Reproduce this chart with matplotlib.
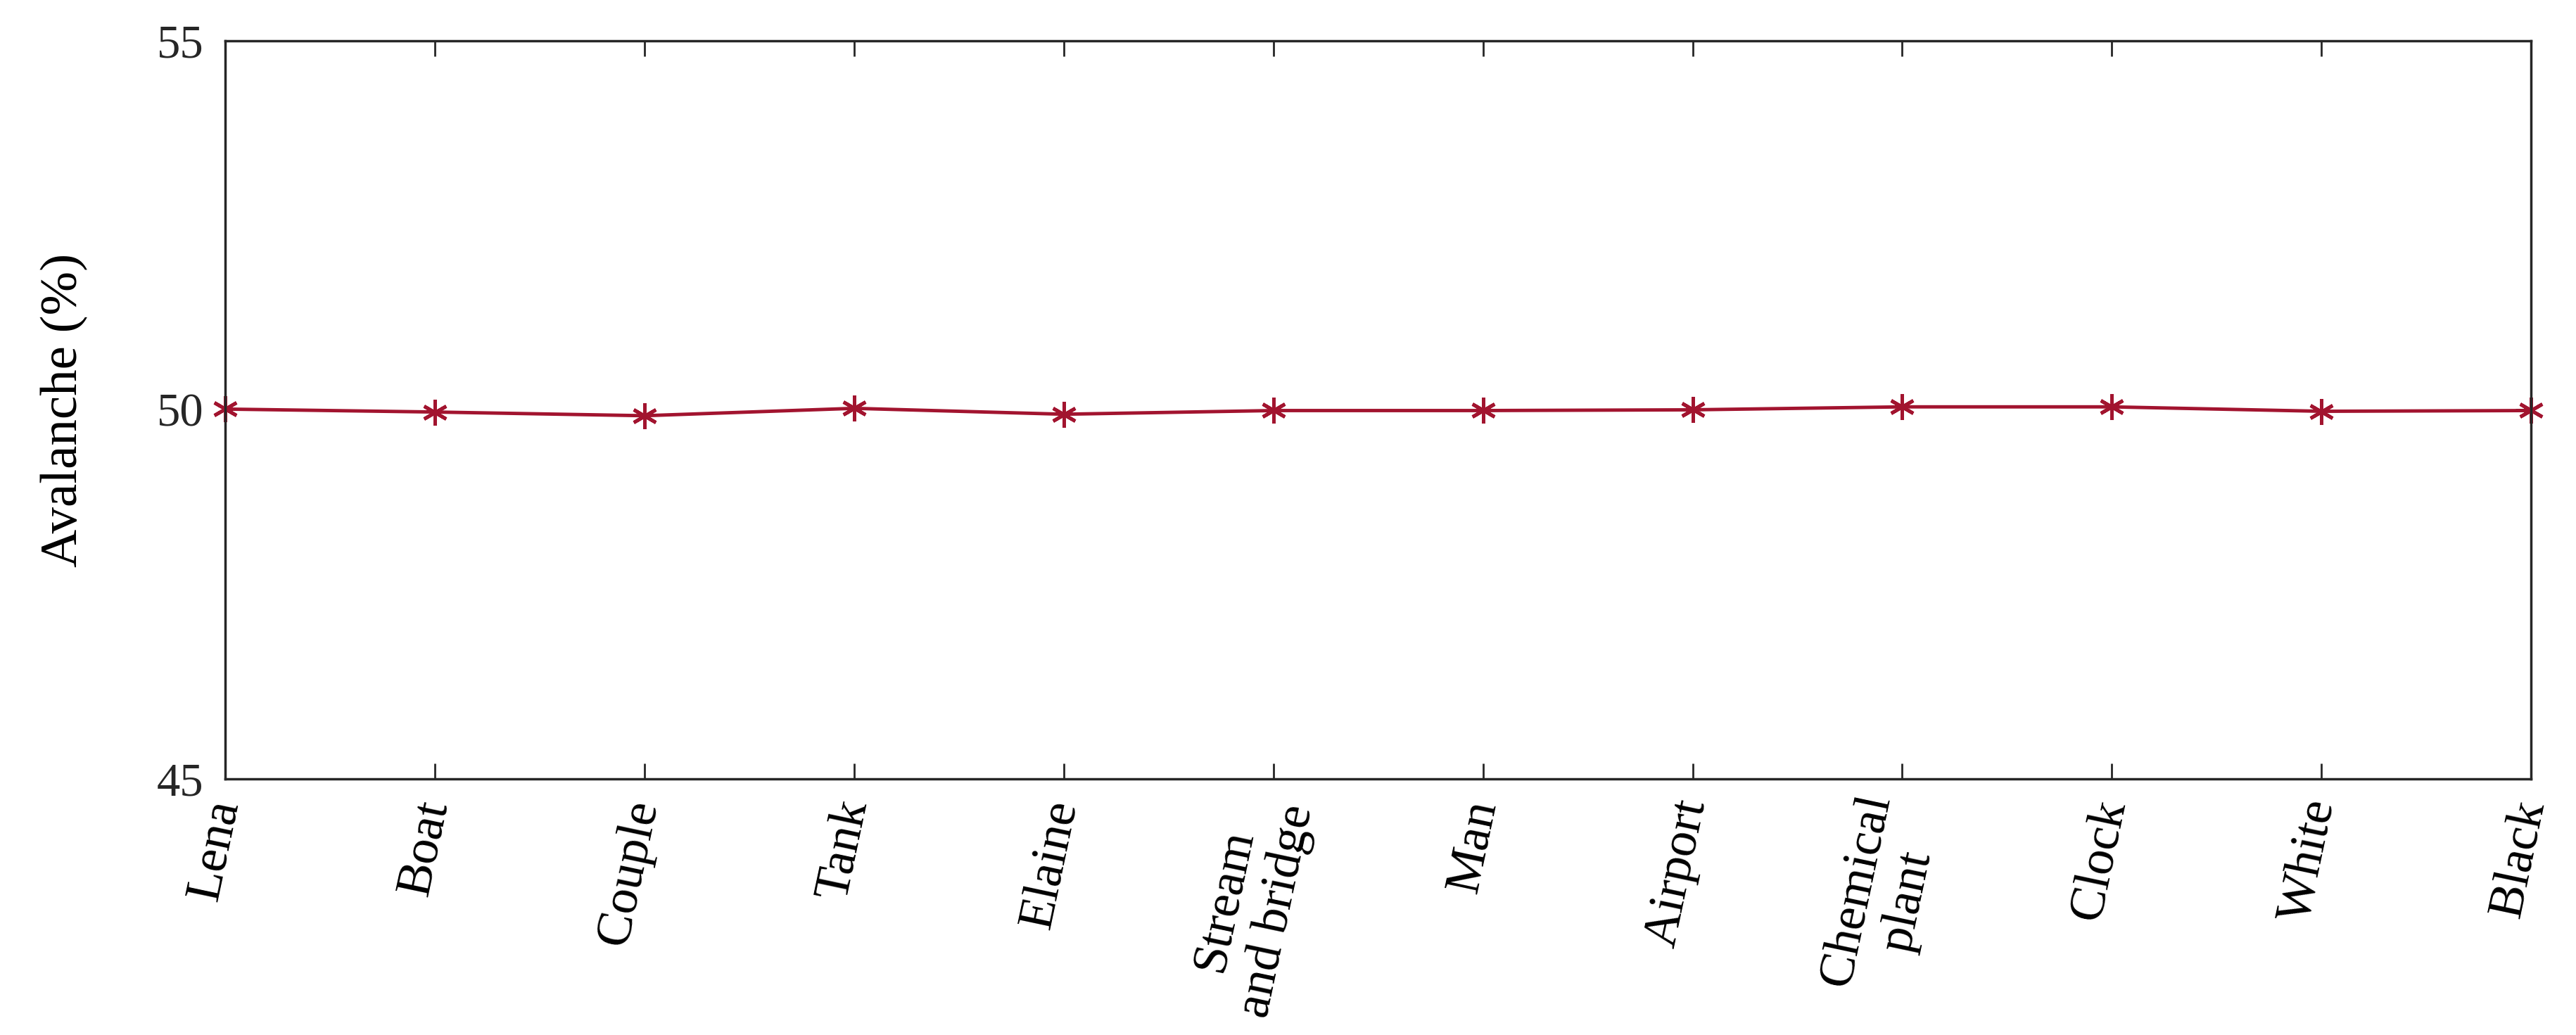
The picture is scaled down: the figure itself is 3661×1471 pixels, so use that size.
import numpy as np
import matplotlib
matplotlib.use('Agg')
import matplotlib.pyplot as plt

images = ['Lena', 'Boat', 'Couple', 'Tank', 'Elaine', 'Stream\nand bridge', 'Man',
          'Airport', 'Chemical\nplant', 'Clock', 'White', 'Black']
avalanche = [50.01, 49.97, 49.92, 50.02, 49.94, 49.99, 49.99, 50.00, 50.04, 50.04, 49.98, 49.99]
y_ticks = [45, 50, 55]

plt.rcParams['font.family'] = ['Liberation Serif', 'DejaVu Serif']

fig = plt.figure(figsize=(36.62, 14.71), dpi=100)
ax = fig.add_axes([0.0874, 0.2475, 0.8949, 0.7131])

x = np.arange(len(images))
ax.plot(x, avalanche, color='#A2142F', linewidth=3.5, marker=(6, 2, 0),
        markersize=26, markeredgewidth=3.5, clip_on=False)

ax.set_xlim(0, len(images) - 1)
ax.set_ylim(45, 55)
ax.set_yticks(y_ticks)
ax.set_xticks(x)
ax.set_xticklabels(images, rotation=78, ha='right', va='center',
                   rotation_mode='anchor', multialignment='center',
                   fontsize=52, color='black')
ax.tick_params(axis='x', direction='in', length=16, width=2, top=True, pad=22,
               color='#262626')
ax.tick_params(axis='y', direction='in', length=16, width=2, right=True, pad=22,
               labelsize=48, labelcolor='#262626', color='#262626')
for s in ax.spines.values():
    s.set_linewidth(2.5)
    s.set_color('#262626')

ax.set_ylabel('Avalanche (%)', fontsize=54, labelpad=70, color='black')

fig.savefig('out.png', dpi=100)
